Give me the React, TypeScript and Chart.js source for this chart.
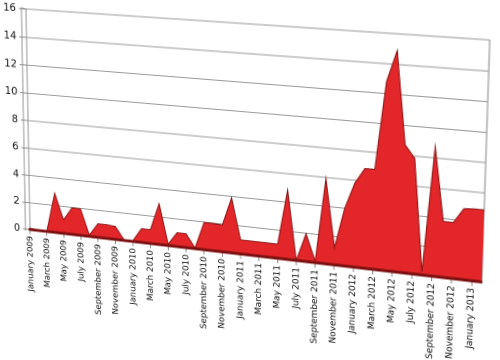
import { useEffect, useRef } from "react";
import { Chart, registerables } from "chart.js";

Chart.register(...registerables);

const months: string[] = [
  "January 2009", "February 2009", "March 2009", "April 2009", "May 2009", "June 2009",
  "July 2009", "August 2009", "September 2009", "October 2009", "November 2009", "December 2009",
  "January 2010", "February 2010", "March 2010", "April 2010", "May 2010", "June 2010",
  "July 2010", "August 2010", "September 2010", "October 2010", "November 2010", "December 2010",
  "January 2011", "February 2011", "March 2011", "April 2011", "May 2011", "June 2011",
  "July 2011", "August 2011", "September 2011", "October 2011", "November 2011", "December 2011",
  "January 2012", "February 2012", "March 2012", "April 2012", "May 2012", "June 2012",
  "July 2012", "August 2012", "September 2012", "October 2012", "November 2012", "December 2012",
  "January 2013", "February 2013",
];

const values: number[] = [
  0.1, 0.05, 0, 2.9, 1.0, 1.95, 1.95, 0.1, 1.0, 1.0, 0.95, 0.05,
  0.05, 1.0, 1.0, 2.95, 0.1, 1.0, 1.0, 0.05, 1.95, 1.95, 1.9, 3.9,
  1.0, 1.0, 1.0, 1.0, 1.0, 4.85, 0, 1.95, 0.1, 5.9, 1.2, 4.0,
  5.8, 6.85, 6.85, 12.8, 14.9, 8.7, 7.85, 0.2, 8.75, 3.8, 3.8, 4.8,
  4.85, 4.85,
];

const yMin = 0;
const yMax = 16;
const yStep = 2;

// where the flat plot rectangle appears on the page (perspective view of the wall)
const wallQuad: [number, number][] = [
  [26, 9],     // top-left
  [490, 40],   // top-right
  [482, 282],  // bottom-right
  [30, 229.5], // bottom-left
];

const FONT = "'DejaVu Sans', Verdana, sans-serif";

function quadMatrix(L: number, T: number, W: number, H: number, q: [number, number][]) {
  const [x0, y0] = q[0], [x1, y1] = q[1], [x2, y2] = q[2], [x3, y3] = q[3];
  const dx1 = x1 - x2, dx2 = x3 - x2, dx3 = x0 - x1 + x2 - x3;
  const dy1 = y1 - y2, dy2 = y3 - y2, dy3 = y0 - y1 + y2 - y3;
  const den = dx1 * dy2 - dx2 * dy1;
  const g = (dx3 * dy2 - dx2 * dy3) / den;
  const h = (dx1 * dy3 - dx3 * dy1) / den;
  const a = x1 - x0 + g * x1, b = x3 - x0 + h * x3, c = x0;
  const d = y1 - y0 + g * y1, e = y3 - y0 + h * y3, f = y0;
  const m00 = a / W, m01 = b / H, m02 = -a * L / W - b * T / H + c;
  const m10 = d / W, m11 = e / H, m12 = -d * L / W - e * T / H + f;
  const m20 = g / W, m21 = h / H, m22 = -g * L / W - h * T / H + 1;
  return `matrix3d(${m00},${m10},0,${m20},${m01},${m11},0,${m21},0,0,1,0,${m02},${m12},0,${m22})`;
}

export default function App() {
  const ref = useRef<HTMLCanvasElement>(null);

  useEffect(() => {
    const canvas = ref.current!;
    const wallPlugin = {
      id: "wallEdge",
      beforeDatasetsDraw(chart: any) {
        const { ctx, chartArea: a } = chart;
        ctx.save();
        ctx.strokeStyle = "#8c8c8c";
        ctx.lineWidth = 1;
        ctx.beginPath();
        ctx.moveTo(a.left - 5, a.top - 1);
        ctx.lineTo(a.left, a.top);
        ctx.moveTo(a.left - 5, a.top - 1);
        ctx.lineTo(a.left - 5, a.bottom + 2);
        ctx.stroke();
        ctx.restore();
      },
    };

    const chart = new Chart(canvas, {
      type: "line",
      data: {
        labels: months,
        datasets: [
          {
            data: values,
            fill: "origin",
            backgroundColor: "#e2262a",
            borderColor: "#8e1515",
            borderWidth: 1,
            pointRadius: 0,
            tension: 0,
          },
        ],
      },
      options: {
        responsive: false,
        animation: false,
        devicePixelRatio: 2,
        layout: { padding: { top: 10, right: 10, left: 0, bottom: 0 } },
        plugins: { legend: { display: false }, tooltip: { enabled: false } },
        scales: {
          x: {
            offset: false,
            afterFit: (s: any) => { s.height = 120; },
            grid: {
              color: (c: any) => (c.index === 0 || c.index === months.length - 1 ? "#8c8c8c" : "rgba(0,0,0,0)"),
              tickColor: (c: any) => (c.index % 2 === 0 ? "#8c8c8c" : "rgba(0,0,0,0)"),
              tickLength: 5,
            },
            border: { display: true, color: "#7c1010", width: 3, z: 1 },
            ticks: {
              autoSkip: false,
              maxRotation: 90,
              minRotation: 90,
              padding: 2,
              color: "#111",
              font: { family: FONT, size: 9 },
              callback: (_v: any, i: number) => (i % 2 === 0 ? months[i] : ""),
            },
          },
          y: {
            min: yMin,
            max: yMax,
            afterFit: (s: any) => { s.width = 30; },
            ticks: { stepSize: yStep, color: "#111", padding: 3, font: { family: FONT, size: 11 } },
            grid: { color: "#9a9a9a", tickLength: 8, tickColor: "#8c8c8c" },
            border: { display: true, color: "#8c8c8c" },
          },
        },
      },
      plugins: [wallPlugin],
    } as any);

    const a = chart.chartArea;
    canvas.style.transform = quadMatrix(a.left, a.top, a.right - a.left, a.bottom - a.top, wallQuad);

    return () => chart.destroy();
  }, []);

  return (
    <canvas
      ref={ref}
      width={500}
      height={360}
      style={{ position: "fixed", left: 0, top: 0, width: "500px", height: "360px", transformOrigin: "0 0" }}
    />
  );
}
